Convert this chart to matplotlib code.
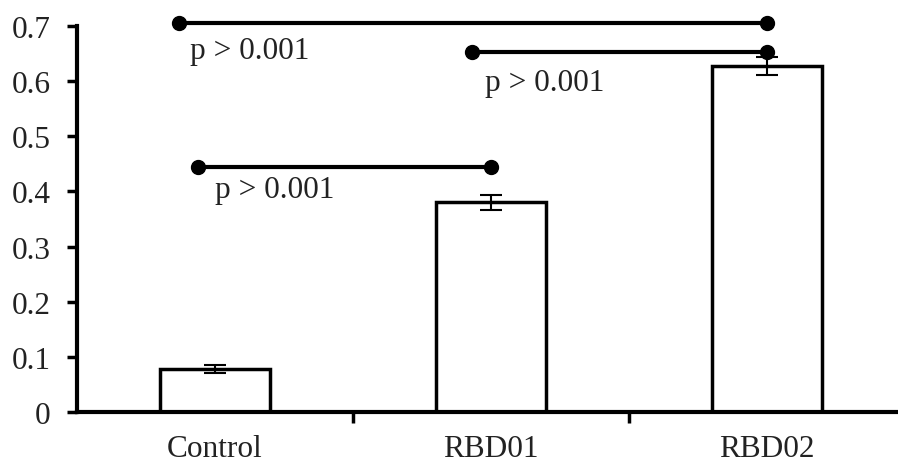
import matplotlib
matplotlib.use('Agg')
import matplotlib.pyplot as plt
import numpy as np

# Data
categories = ['Control', 'RBD01', 'RBD02']
means = [0.078, 0.380, 0.628]
errors = [0.008, 0.014, 0.016]

# significance brackets (x in category units, y in data units)
bracket_x0 = [-0.13, 0.93, -0.06]
bracket_x1 = [2.0, 2.0, 1.0]
bracket_y = [0.705, 0.652, 0.444]
bracket_labels = ['p > 0.001', 'p > 0.001', 'p > 0.001']
label_x = [-0.09, 0.98, 0.0]
label_y = [0.655, 0.597, 0.403]

plt.rcParams['font.family'] = ['Liberation Serif', 'DejaVu Serif']
FS = 22.5

fig = plt.figure(figsize=(8.98, 4.64), dpi=100)
ax = fig.add_axes([77 / 898, 51 / 464, 828 / 898, 386 / 464])

x = np.arange(len(categories))
ax.bar(x, means, width=0.4, color='white', edgecolor='black', linewidth=2.5, zorder=2)
ax.errorbar(x, means, yerr=errors, fmt='none', ecolor='black', elinewidth=1.5,
            capsize=8, capthick=1.5, zorder=3)

for x0, x1, y, lab, lx, ly in zip(bracket_x0, bracket_x1, bracket_y, bracket_labels, label_x, label_y):
    ax.plot([x0, x1], [y, y], color='black', lw=3, marker='o', markersize=10,
            clip_on=False, zorder=4)
    ax.text(lx, ly, lab, fontsize=FS, ha='left', va='center', color='#222222')

ax.set_xlim(-0.5, 2.5)
ax.set_ylim(0, 0.7)
ax.set_yticks(np.arange(0, 0.71, 0.1))
ax.set_yticklabels(['0', '0.1', '0.2', '0.3', '0.4', '0.5', '0.6', '0.7'])

# category labels centred, ticks at category boundaries
ax.set_xticks([0.5, 1.5, 2.5])
ax.set_xticklabels([])
ax.set_xticks(x, minor=True)
ax.set_xticklabels(categories, minor=True)
ax.tick_params(axis='x', which='major', direction='out', length=8, width=2.5)
ax.tick_params(axis='x', which='minor', length=0, pad=16, labelsize=FS, labelcolor='#222222')
ax.tick_params(axis='y', direction='out', length=7, width=2.5, pad=12, labelsize=FS,
               labelcolor='#222222')

for s in ['top', 'right']:
    ax.spines[s].set_visible(False)
for s in ['left', 'bottom']:
    ax.spines[s].set_linewidth(3)

fig.savefig('out.png', dpi=100)
